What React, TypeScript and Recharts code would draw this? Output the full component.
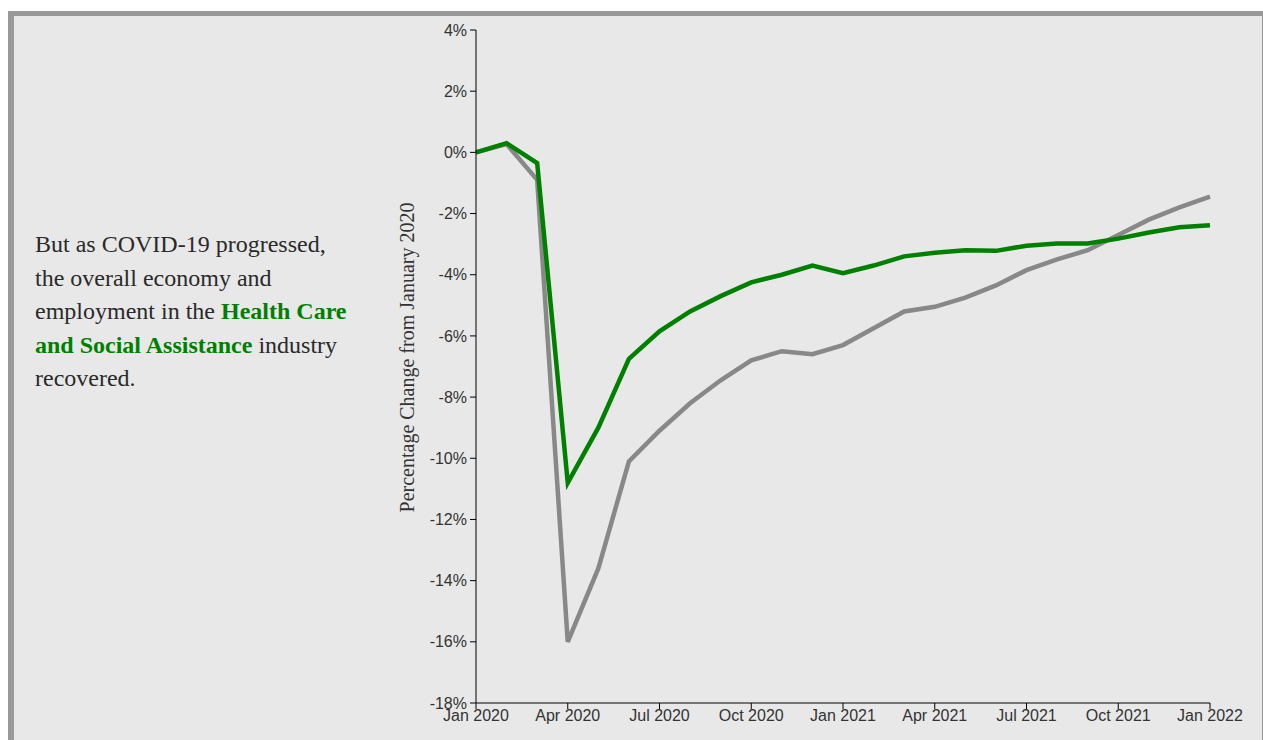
import React from 'react'
import { LineChart, Line, XAxis, YAxis } from 'recharts'

// monthly, Jan 2020 .. Jan 2022
const months = [
  'Jan 2020', 'Feb 2020', 'Mar 2020', 'Apr 2020', 'May 2020', 'Jun 2020',
  'Jul 2020', 'Aug 2020', 'Sep 2020', 'Oct 2020', 'Nov 2020', 'Dec 2020',
  'Jan 2021', 'Feb 2021', 'Mar 2021', 'Apr 2021', 'May 2021', 'Jun 2021',
  'Jul 2021', 'Aug 2021', 'Sep 2021', 'Oct 2021', 'Nov 2021', 'Dec 2021',
  'Jan 2022',
]

// percentage change from January 2020
const overallEconomy = [
  0, 0.27, -0.9, -16.0, -13.6, -10.1,
  -9.1, -8.2, -7.45, -6.8, -6.5, -6.6,
  -6.3, -5.75, -5.2, -5.05, -4.75, -4.35,
  -3.85, -3.5, -3.2, -2.7, -2.2, -1.8,
  -1.45,
]

const healthCare = [
  0, 0.3, -0.35, -10.8, -9.0, -6.75,
  -5.85, -5.2, -4.7, -4.25, -4.0, -3.7,
  -3.95, -3.7, -3.4, -3.28, -3.2, -3.22,
  -3.05, -2.98, -2.98, -2.82, -2.62, -2.45,
  -2.38,
]

const xTicks = [0, 3, 6, 9, 12, 15, 18, 21, 24]
const yTicks = [-18, -16, -14, -12, -10, -8, -6, -4, -2, 0, 2, 4]

const chartData = months.map((m, i) => ({
  idx: i,
  month: m,
  overall: overallEconomy[i],
  health: healthCare[i],
}))

const serif = '"Liberation Serif", "Times New Roman", serif'
const sans = '"Liberation Sans", Arial, sans-serif'

// eslint-disable-next-line @typescript-eslint/no-explicit-any
const YLabel = (props: any) => {
  const { viewBox } = props
  const cx = viewBox.x + 11
  const cy = viewBox.y + viewBox.height / 2 - 9
  return (
    <text
      x={cx}
      y={cy}
      transform={`rotate(-90 ${cx} ${cy})`}
      textAnchor="middle"
      dominantBaseline="central"
      fontFamily={serif}
      fontSize={20}
      fill="#333"
    >
      Percentage Change from January 2020
    </text>
  )
}

export default function App() {
  const tickStyle = { fontFamily: sans, fontSize: 16, fill: '#333' }
  return (
    <div style={{ position: 'absolute', left: 0, top: 0, width: 1263, height: 740, overflow: 'hidden', background: '#fff' }}>
      <div
        style={{
          position: 'absolute',
          left: 8,
          top: 11,
          width: 1248,
          height: 760,
          background: '#e8e8e8',
          borderTop: '5px solid #999',
          borderLeft: '6px solid #999',
          borderRight: '1px solid #999',
        }}
      />
      <div
        style={{
          position: 'absolute',
          left: 35,
          top: 228,
          fontFamily: serif,
          fontSize: 24,
          lineHeight: '33.5px',
          color: '#2a2a2a',
          whiteSpace: 'nowrap',
        }}
      >
        But as COVID-19 progressed,<br />
        the overall economy and<br />
        employment in the <span style={{ color: 'green', fontWeight: 600 }}>Health Care</span><br />
        <span style={{ color: 'green', fontWeight: 600 }}>and Social Assistance</span> industry<br />
        recovered.
      </div>
      <div style={{ position: 'absolute', left: 0, top: 0 }}>
        <LineChart
          width={1263}
          height={740}
          data={chartData}
          margin={{ top: 30, right: 53, bottom: 7, left: 396 }}
        >
          <XAxis
            dataKey="idx"
            type="number"
            domain={[0, 24]}
            ticks={xTicks}
            tickFormatter={(v: number) => months[v]}
            height={30}
            stroke="#000"
            tick={tickStyle}
            tickSize={6}
            tickMargin={1}
            interval={0}
            allowDecimals={false}
          />
          <YAxis
            type="number"
            domain={[-18, 4]}
            ticks={yTicks}
            tickFormatter={(v: number) => `${v}%`}
            width={80}
            stroke="#000"
            tick={tickStyle}
            tickSize={6}
            tickMargin={3}
            interval={0}
            label={<YLabel />}
          />
          <Line
            type="linear"
            dataKey="overall"
            stroke="#888"
            strokeWidth={4.5}
            dot={false}
            isAnimationActive={false}
          />
          <Line
            type="linear"
            dataKey="health"
            stroke="green"
            strokeWidth={4.5}
            dot={false}
            isAnimationActive={false}
          />
        </LineChart>
      </div>
    </div>
  )
}
